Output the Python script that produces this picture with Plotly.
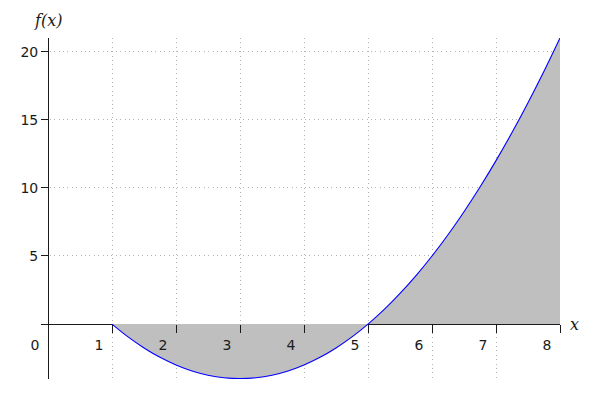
import plotly.graph_objects as go

x_vals = [1.0, 1.25, 1.5, 1.75, 2.0, 2.25, 2.5, 2.75, 3.0, 3.25, 3.5, 3.75, 4.0,
          4.25, 4.5, 4.75, 5.0, 5.25, 5.5, 5.75, 6.0, 6.25, 6.5, 6.75, 7.0,
          7.25, 7.5, 7.75, 8.0]
y_vals = [0.0, -0.94, -1.75, -2.44, -3.0, -3.44, -3.75, -3.94, -4.0, -3.94, -3.75,
          -3.44, -3.0, -2.44, -1.75, -0.94, 0.0, 1.06, 2.25, 3.56, 5.0, 6.56,
          8.25, 10.06, 12.0, 14.06, 16.25, 18.56, 21.0]

x_ticks = [0, 1, 2, 3, 4, 5, 6, 7, 8]
x_tick_labels = ["0", "1", "2", "3", "4", "5", "6", "7", "8"]
y_ticks = [5, 10, 15, 20]
y_tick_labels = ["5", "10", "15", "20"]

x_range = [-0.11, 8.0]
y_range = [-4.03, 21.0]

fig = go.Figure()
fig.add_trace(go.Scatter(
    x=x_vals, y=y_vals, mode="lines", line=dict(color="#0000ff", width=1.1, shape="spline"),
    fill="tozeroy", fillcolor="#bfbfbf", hoverinfo="skip", showlegend=False,
))

xpos_y = (0 - y_range[0]) / (y_range[1] - y_range[0])
ypos_x = (0 - x_range[0]) / (x_range[1] - x_range[0])

tickfont = dict(family="DejaVu Sans", size=14, color="#1a1a1a")
grid = dict(showgrid=True, gridcolor="#b4b4b4", griddash="1px,3.4px", gridwidth=1)

fig.update_layout(
    width=584, height=384,
    margin=dict(l=30, r=32, t=30, b=13),
    paper_bgcolor="white", plot_bgcolor="white",
    xaxis=dict(
        range=x_range, anchor="free", position=xpos_y,
        tickvals=x_ticks, ticktext=x_tick_labels,
        ticks="outside", ticklen=8, tickcolor="#1a1a1a", tickwidth=1,
        ticklabelshift=-13, tickfont=tickfont,
        zeroline=True, zerolinecolor="#1a1a1a", zerolinewidth=1,
        showline=False, fixedrange=True, **grid,
    ),
    yaxis=dict(
        range=y_range, anchor="free", position=ypos_x,
        tickvals=y_ticks, ticktext=y_tick_labels,
        ticks="outside", ticklen=7, tickcolor="#1a1a1a", tickwidth=1,
        tickfont=tickfont,
        zeroline=True, zerolinecolor="#1a1a1a", zerolinewidth=1,
        showline=False, fixedrange=True, **grid,
    ),
    annotations=[
        dict(text="f(x)", xref="paper", yref="paper", x=ypos_x, y=1, yshift=18,
             xanchor="center", yanchor="middle", showarrow=False,
             font=dict(family="DejaVu Serif", size=16, style="italic", color="#1a1a1a")),
        dict(text="x", xref="paper", yref="paper", x=1, y=xpos_y, xshift=14,
             xanchor="center", yanchor="middle", showarrow=False,
             font=dict(family="DejaVu Serif", size=16, style="italic", color="#1a1a1a")),
    ],
)

fig.write_html("out.html")
